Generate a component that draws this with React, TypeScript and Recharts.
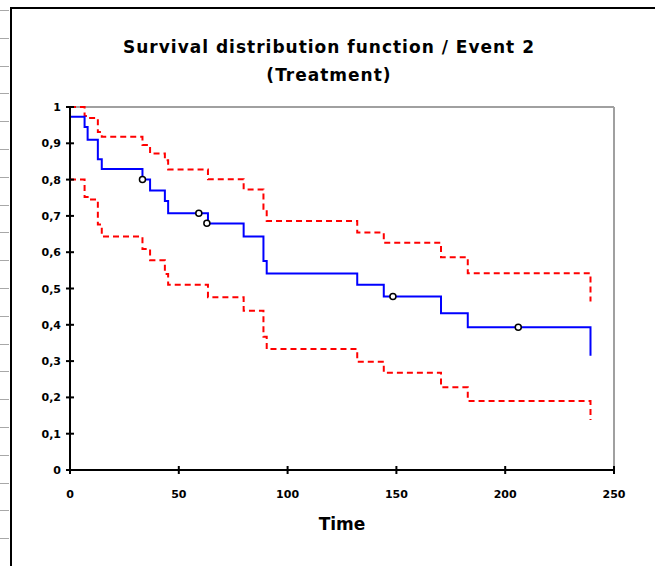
import React from 'react';
import { ComposedChart, Line, Scatter, XAxis, YAxis, ReferenceLine, Label } from 'recharts';

// step change times (Time) and the KM estimate with its confidence band
const times = [0, 6.7, 8.1, 12.8, 14.6, 33.3, 36.8, 43.6, 45.1, 63.4, 79.8, 88.9, 90.4, 132, 144.2, 170.5, 182.8, 239.2];
const survival = [0.973, 0.945, 0.91, 0.856, 0.829, 0.8, 0.77, 0.741, 0.707, 0.679, 0.643, 0.576, 0.541, 0.51, 0.478, 0.432, 0.393, 0.315];
const upperBound = [1.0, 0.975, 0.97, 0.931, 0.918, 0.895, 0.872, 0.853, 0.828, 0.801, 0.773, 0.72, 0.686, 0.654, 0.626, 0.586, 0.542, 0.464];
const lowerBound = [0.8, 0.752, 0.745, 0.676, 0.643, 0.609, 0.578, 0.54, 0.51, 0.476, 0.439, 0.367, 0.333, 0.298, 0.268, 0.228, 0.19, 0.138];

// censored observations
const censorTimes = [33.3, 59.2, 62.9, 148.4, 206];
const censorSurvival = [0.8, 0.707, 0.68, 0.478, 0.393];

const xTicks = [0, 50, 100, 150, 200, 250];
const yTicks = [0, 0.1, 0.2, 0.3, 0.4, 0.5, 0.6, 0.7, 0.8, 0.9, 1];

const data = times.map((t, i) => ({ t, surv: survival[i], upper: upperBound[i], lower: lowerBound[i] }));
const censored = censorTimes.map((t, i) => ({ t, s: censorSurvival[i] }));

const FONT = '"DejaVu Sans", Verdana, sans-serif';

const fmtY = (v: number) => (v === 0 || v === 1 ? String(v) : v.toFixed(1).replace('.', ','));

const YTick = (props: any) => {
  const { x, y, payload } = props;
  return (
    <g>
      <line x1={x - 4} x2={x + 4} y1={y} y2={y} stroke="#000" strokeWidth={2} />
      <text x={x - 9} y={y + 4} textAnchor="end" fontFamily={FONT} fontWeight="bold" fontSize={11} fill="#000">
        {fmtY(payload.value)}
      </text>
    </g>
  );
};

const XTick = (props: any) => {
  const { x, y, payload } = props;
  return (
    <g>
      <line x1={x} x2={x} y1={y - 4} y2={y + 4} stroke="#000" strokeWidth={2} />
      <text x={x} y={y + 28} textAnchor="middle" fontFamily={FONT} fontWeight="bold" fontSize={11} fill="#000">
        {payload.value}
      </text>
    </g>
  );
};

const CensorMark = (props: any) => (
  <circle cx={props.cx} cy={props.cy} r={3} fill="#fff" stroke="#000" strokeWidth={1.5} />
);

const App: React.FC = () => {
  return (
    <div style={{ position: 'absolute', left: 0, top: 0, width: 655, height: 566, background: '#fff', overflow: 'hidden' }}>
      {Array.from({ length: 21 }, (_, k) => (
        <div key={k} style={{ position: 'absolute', left: 0, top: 10 + k * 27.8, width: 9, height: 1, background: '#a8a8a8' }} />
      ))}
      <div style={{ position: 'absolute', left: 10, top: 7, width: 700, height: 600, borderLeft: '2px solid #000', borderTop: '2px solid #000' }} />
      <div style={{ position: 'absolute', left: 10, top: 33, width: 638, textAlign: 'center', fontFamily: FONT, fontWeight: 'bold', fontSize: 17, lineHeight: '28px', letterSpacing: 1, color: '#000' }}>
        <div>Survival distribution function / Event 2</div>
        <div>(Treatment)</div>
      </div>
      <div style={{ position: 'absolute', left: 0, top: 0 }}>
        <ComposedChart width={655} height={566} data={data} margin={{ top: 107, right: 41, left: 20, bottom: 66 }}>
          <XAxis
            dataKey="t"
            type="number"
            domain={[0, 250]}
            ticks={xTicks}
            height={30}
            axisLine={{ stroke: '#000', strokeWidth: 2 }}
            tickLine={false}
            tickSize={0}
            tickMargin={0}
            tick={<XTick />}
            interval={0}
          >
            <Label
              content={(p: any) => {
                const vb = p.viewBox;
                return (
                  <text x={vb.x + vb.width / 2} y={vb.y + 60} textAnchor="middle" fontFamily={FONT} fontWeight="bold" fontSize={17} fill="#000">
                    Time
                  </text>
                );
              }}
            />
          </XAxis>
          <YAxis
            type="number"
            domain={[0, 1]}
            ticks={yTicks}
            width={50}
            axisLine={{ stroke: '#000', strokeWidth: 2 }}
            tickLine={false}
            tickSize={0}
            tickMargin={0}
            tick={<YTick />}
            interval={0}
          />
          <ReferenceLine y={1} stroke="#a0a0a0" strokeWidth={2} />
          <ReferenceLine x={250} stroke="#a0a0a0" strokeWidth={2} />
          <Line dataKey="upper" type="stepAfter" stroke="#ff0000" strokeWidth={2} strokeDasharray="6 4" dot={false} isAnimationActive={false} />
          <Line dataKey="lower" type="stepAfter" stroke="#ff0000" strokeWidth={2} strokeDasharray="6 4" dot={false} isAnimationActive={false} />
          <Line dataKey="surv" type="stepAfter" stroke="#0000ff" strokeWidth={2} dot={false} isAnimationActive={false} />
          <Scatter data={censored} dataKey="s" shape={<CensorMark />} isAnimationActive={false} />
        </ComposedChart>
      </div>
    </div>
  );
};

export default App;
